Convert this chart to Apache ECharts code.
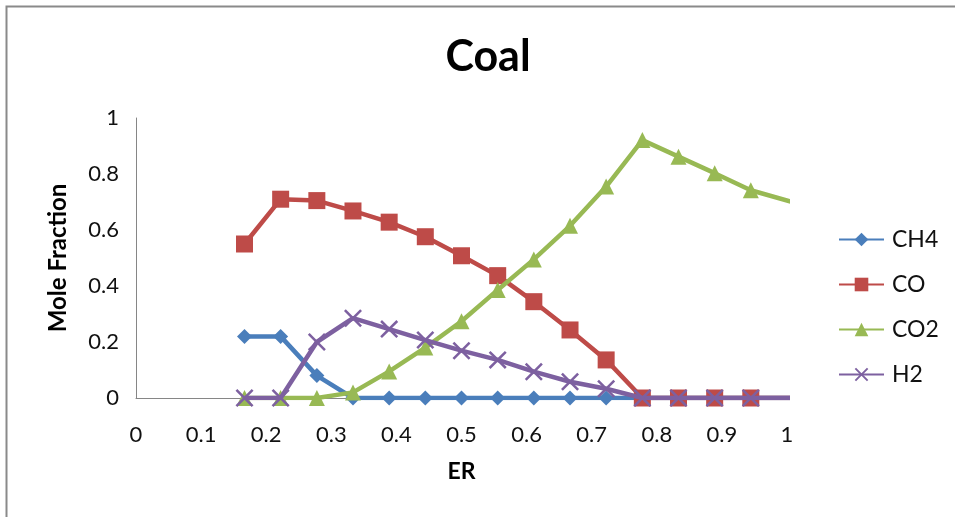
<!DOCTYPE html>
<html>
<head>
<meta charset="utf-8">
<script src="https://cdn.jsdelivr.net/npm/echarts@6/dist/echarts.min.js"></script>
<style>html,body{margin:0;padding:0;background:#fff;}#chart{width:955px;height:517px;}</style>
</head>
<body>
<div id="chart"></div>
<script>
// ER values (x) : 3/18 ... 19/18
const er = [0.1667, 0.2222, 0.2778, 0.3333, 0.3889, 0.4444, 0.5, 0.5556, 0.6111, 0.6667, 0.7222, 0.7778, 0.8333, 0.8889, 0.9444, 1.0556];
const ch4 = [0.22, 0.22, 0.08, 0, 0, 0, 0, 0, 0, 0, 0, 0, 0, 0, 0, 0];
const co  = [0.55, 0.71, 0.705, 0.668, 0.628, 0.576, 0.508, 0.437, 0.344, 0.243, 0.136, 0, 0, 0, 0, 0];
const co2 = [0, 0, 0, 0.02, 0.095, 0.18, 0.274, 0.386, 0.495, 0.615, 0.755, 0.921, 0.862, 0.803, 0.742, 0.668];
const h2  = [0, 0, 0.2, 0.285, 0.246, 0.207, 0.169, 0.136, 0.094, 0.058, 0.033, 0, 0, 0, 0, 0];
const seriesNames = ['CH4', 'CO', 'CO2', 'H2'];
const xTicks = [0, 0.1, 0.2, 0.3, 0.4, 0.5, 0.6, 0.7, 0.8, 0.9, 1];
const yTicks = [0, 0.2, 0.4, 0.6, 0.8, 1];

const pairs = arr => arr.map((v, i) => [er[i], v]);
const crossPath = 'path://M0,1L1,0L5,4L9,0L10,1L6,5L10,9L9,10L5,6L1,10L0,9L4,5Z';
const colors = ['#4A7EBB', '#BE4B48', '#98B954', '#7D60A0'];
const symbols = ['diamond', 'rect', 'triangle', crossPath];
const sizes = [15, 17, 16, 18];
const values = [ch4, co, co2, h2];
const font = 'Lato, "Open Sans", sans-serif';

const chart = echarts.init(document.getElementById('chart'), null, {renderer: 'canvas'});
chart.setOption({
  backgroundColor: '#fff',
  animation: false,
  title: {
    text: 'Coal', left: 483, top: 31, textAlign: 'center',
    textStyle: {fontFamily: font, fontSize: 43, fontWeight: 'bold', color: '#000'}
  },
  graphic: [{
    type: 'rect', left: 4, top: 4, shape: {width: 1000, height: 600},
    style: {fill: 'none', stroke: '#8a8a8a', lineWidth: 2}, silent: true
  }],
  legend: {
    orient: 'vertical', left: 833, top: 223,
    itemWidth: 45, itemHeight: 17, itemGap: 22,
    data: seriesNames,
    textStyle: {fontFamily: font, fontSize: 23, color: '#111', padding: [0, 0, 0, 3]}
  },
  grid: {left: 136, right: 168, top: 118, bottom: 119, containLabel: false},
  xAxis: {
    type: 'value', min: 0, max: 1, interval: 0.1,
    name: 'ER', nameLocation: 'middle', nameGap: 62,
    nameTextStyle: {fontFamily: font, fontSize: 23, fontWeight: 'bold', color: '#000'},
    axisLine: {lineStyle: {color: '#868686', width: 1}},
    axisTick: {show: false}, splitLine: {show: false},
    axisLabel: {fontFamily: font, fontSize: 22, color: '#111', margin: 26,
      formatter: v => xTicks.includes(+v.toFixed(1)) ? String(+v.toFixed(1)) : ''}
  },
  yAxis: {
    type: 'value', min: 0, max: 1, interval: 0.2,
    name: 'Mole Fraction', nameLocation: 'middle', nameGap: 66,
    nameTextStyle: {fontFamily: font, fontSize: 24, fontWeight: 'bold', color: '#000'},
    axisLine: {show: true, lineStyle: {color: '#868686', width: 1}},
    axisTick: {show: false}, splitLine: {show: false},
    axisLabel: {fontFamily: font, fontSize: 22, color: '#111', margin: 17,
      formatter: v => yTicks.includes(+v.toFixed(1)) ? String(+v.toFixed(1)) : ''}
  },
  series: seriesNames.map((n, i) => ({
    name: n, type: 'line', clip: true,
    data: pairs(values[i]),
    symbol: symbols[i], symbolSize: sizes[i], showAllSymbol: true,
    lineStyle: {color: colors[i], width: 4.5},
    itemStyle: {color: colors[i]},
    z: 2 + i
  }))
});
</script>
</body>
</html>
